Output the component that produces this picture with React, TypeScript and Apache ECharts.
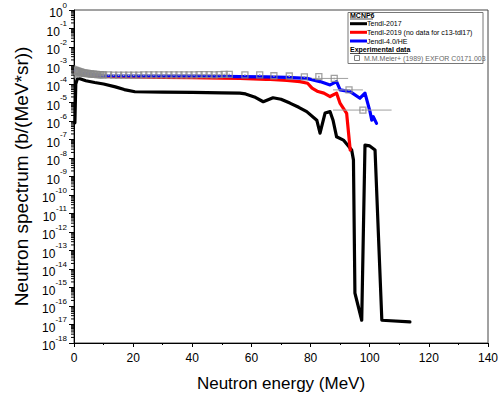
import React, { useEffect, useRef } from "react";
import * as echarts from "echarts";

const FONT = "'Liberation Sans', Arial, Helvetica, sans-serif";

// Tendl-2017 (black)
const tendl2017E = [0.3, 0.6, 1.2, 2, 4, 7, 10, 14, 17, 20.6, 30, 40, 50, 56.1, 58, 61, 64, 67.3, 70, 73, 76, 78.7, 82.1, 83.2, 84.9, 86.6, 87.6, 88.8, 91.1, 93.9, 94.5, 95.0, 97.3, 98.4, 100, 101.8, 104.1, 113.6];
const tendl2017V = [8e-7, 1e-4, 2.1e-4, 1.9e-4, 1.5e-4, 1.2e-4, 1.0e-4, 7e-5, 5e-5, 3.8e-5, 3.6e-5, 3.5e-5, 3.3e-5, 3.2e-5, 2.9e-5, 2e-5, 1.1e-5, 1.8e-5, 1.5e-5, 9.3e-6, 5.5e-6, 3.2e-6, 1.1e-6, 2.2e-7, 2.7e-6, 3.2e-6, 1.1e-6, 1.4e-7, 9.3e-8, 2.7e-8, 7.9e-9, 5e-16, 1.7e-17, 5e-8, 4.5e-8, 2.7e-8, 1.7e-17, 1.4e-17];

// Tendl-2019 (red)
const tendl2019E = [0.3, 0.8, 1.5, 3, 6, 10, 20, 30, 40, 50, 56.1, 65, 72, 76.4, 79, 80.5, 82.5, 84.5, 86.6, 88.8, 90, 92.2, 93.4];
const tendl2019V = [5.0e-4, 4.6e-4, 4.2e-4, 3.7e-4, 3.1e-4, 2.6e-4, 2.4e-4, 2.3e-4, 2.2e-4, 2.1e-4, 2.0e-4, 1.8e-4, 1.55e-4, 1.35e-4, 1.1e-4, 6e-5, 3.9e-5, 3.2e-5, 2.1e-5, 3.2e-5, 8.9e-6, 2.6e-6, 2.7e-8];

// Jendl-4.0/HE (blue)
const jendlE = [0.3, 0.8, 1.5, 3, 6, 10, 20, 30, 40, 50, 56.1, 65, 72, 78.7, 83.2, 86.6, 88.8, 90, 93.4, 96.7, 98.4, 100.1, 100.7, 101.2, 102.3];
const jendlV = [5.5e-4, 5.0e-4, 4.5e-4, 3.9e-4, 3.3e-4, 2.8e-4, 2.7e-4, 2.7e-4, 2.7e-4, 2.6e-4, 2.5e-4, 2.4e-4, 2.3e-4, 2.0e-4, 1.35e-4, 8.9e-5, 1.35e-4, 4.8e-5, 3.9e-5, 1.7e-5, 3.2e-5, 3.2e-6, 1.1e-6, 1.7e-6, 7.4e-7];

// Experimental data M.M.Meier+ (1989)
const expE = [0.4, 0.8, 1.2, 1.6, 2.0, 2.5, 3.0, 3.5, 4.0, 4.5, 5.0, 5.5, 6.0, 6.5, 7.0, 7.5, 8.0, 8.5, 9.0, 9.5, 10.0,
  11.7, 13.4, 15.1, 16.8, 18.5, 20.2, 21.9, 23.6, 25.3, 27.0, 28.7, 30.4, 32.1, 33.8, 35.5, 37.2, 38.9, 40.6, 42.3, 44.0, 45.7, 47.4, 49.1, 50.8, 52.5,
  57.8, 62.8, 67.6, 72.8, 77.9, 82.8, 88.0, 93.0, 97.7];
const expV = [5.2e-4, 5.0e-4, 4.8e-4, 4.6e-4, 4.4e-4, 4.2e-4, 4.0e-4, 3.9e-4, 3.8e-4, 3.7e-4, 3.6e-4, 3.5e-4, 3.45e-4, 3.4e-4, 3.35e-4, 3.3e-4, 3.25e-4, 3.2e-4, 3.2e-4, 3.15e-4, 3.1e-4,
  3.1e-4, 3.05e-4, 3.0e-4, 3.0e-4, 3.0e-4, 3.0e-4, 3.05e-4, 3.1e-4, 3.1e-4, 3.1e-4, 3.1e-4, 3.1e-4, 3.15e-4, 3.1e-4, 3.1e-4, 3.15e-4, 3.1e-4, 3.1e-4, 3.2e-4, 3.2e-4, 3.2e-4, 3.15e-4, 3.2e-4, 3.3e-4, 3.3e-4,
  3.1e-4, 3.1e-4, 2.8e-4, 2.7e-4, 2.4e-4, 2.5e-4, 2.0e-4, 4.8e-5, 3.9e-6];
const expYHigh = [1.0e-3, 9.5e-4, 9.0e-4, 8.5e-4, 8.0e-4, 7.5e-4, 7.0e-4, 6.5e-4, 6.0e-4, 5.6e-4, 5.2e-4, 4.9e-4, 4.7e-4, 4.5e-4, 4.3e-4, 4.2e-4, 4.1e-4, 4.0e-4, 3.9e-4, 3.8e-4, 3.7e-4,
  3.4e-4, 3.35e-4, 3.3e-4, 3.3e-4, 3.3e-4, 3.3e-4, 3.35e-4, 3.4e-4, 3.4e-4, 3.4e-4, 3.4e-4, 3.4e-4, 3.45e-4, 3.4e-4, 3.4e-4, 3.45e-4, 3.4e-4, 3.4e-4, 3.5e-4, 3.5e-4, 3.5e-4, 3.45e-4, 3.5e-4, 3.6e-4, 3.6e-4,
  3.4e-4, 3.4e-4, 3.1e-4, 3.0e-4, 2.7e-4, 2.8e-4, 2.2e-4, 5.3e-5, 4.3e-6];
const expYLow = [2.0e-4, 2.1e-4, 2.2e-4, 2.2e-4, 2.3e-4, 2.3e-4, 2.4e-4, 2.4e-4, 2.5e-4, 2.5e-4, 2.5e-4, 2.5e-4, 2.6e-4, 2.6e-4, 2.6e-4, 2.6e-4, 2.6e-4, 2.6e-4, 2.6e-4, 2.6e-4, 2.6e-4,
  2.8e-4, 2.75e-4, 2.7e-4, 2.7e-4, 2.7e-4, 2.7e-4, 2.75e-4, 2.8e-4, 2.8e-4, 2.8e-4, 2.8e-4, 2.8e-4, 2.85e-4, 2.8e-4, 2.8e-4, 2.85e-4, 2.8e-4, 2.8e-4, 2.9e-4, 2.9e-4, 2.9e-4, 2.85e-4, 2.9e-4, 3.0e-4, 3.0e-4,
  2.8e-4, 2.8e-4, 2.5e-4, 2.4e-4, 2.2e-4, 2.2e-4, 1.8e-4, 4.3e-5, 3.5e-6];
// horizontal (energy) error bars, only for the last three points
const expXLow = [...new Array(52).fill(null), 80.4, 87.6, 87.6];
const expXHigh = [...new Array(52).fill(null), 92.7, 97.7, 107.4];

const seriesNames = ["Tendl-2017", "Tendl-2019 (no data for c13-tdl17)", "Jendl-4.0/HE"];
const seriesColors = ["#000000", "#ff0000", "#0000ff"];
const expName = "M.M.Meier+ (1989) EXFOR C0171.003";
const legendHeaders = ["MCNP6", "Experimental data"];

// minor ticks on the log axis: 2..9 × 10^d
const minorTickValues: number[] = [];
for (let d = -18; d < 0; d++) {
  for (let k = 2; k <= 9; k++) minorTickValues.push(k * Math.pow(10, d));
}

export default function App() {
  const ref = useRef<HTMLDivElement>(null);
  useEffect(() => {
    if (!ref.current) return;
    const chart = echarts.init(ref.current, undefined, { renderer: "svg" });

    const lineData = [
      tendl2017E.map((e, i) => [e, tendl2017V[i]]),
      tendl2019E.map((e, i) => [e, tendl2019V[i]]),
      jendlE.map((e, i) => [e, jendlV[i]]),
    ];

    const lx = 350;
    const rows = [15, 23.7, 32.3, 41, 49.5, 58];
    const graphics: any[] = [
      { type: "rect", shape: { x: 348, y: 12.5, width: 135, height: 51 }, style: { fill: "#fff", stroke: "#777", lineWidth: 1 }, z: 100 },
      { type: "text", x: lx, y: rows[0], style: { text: legendHeaders[0], fontSize: 7, fontWeight: "bold", fontFamily: FONT, fill: "#000", verticalAlign: "middle" }, z: 101 },
      { type: "line", shape: { x1: lx, y1: rows[0] + 4, x2: lx + 23, y2: rows[0] + 4 }, style: { stroke: "#000", lineWidth: 0.7 }, z: 101 },
      { type: "text", x: lx, y: rows[4], style: { text: legendHeaders[1], fontSize: 7, fontWeight: "bold", fontFamily: FONT, fill: "#000", verticalAlign: "middle" }, z: 101 },
      { type: "line", shape: { x1: lx, y1: rows[4] + 4, x2: lx + 58, y2: rows[4] + 4 }, style: { stroke: "#000", lineWidth: 0.7 }, z: 101 },
      { type: "rect", shape: { x: 354.5, y: rows[5] - 2.5, width: 5, height: 5 }, style: { fill: "none", stroke: "#808080", lineWidth: 1 }, z: 101 },
      { type: "text", x: 364, y: rows[5], style: { text: expName, fontSize: 7, fontFamily: FONT, fill: "#666", verticalAlign: "middle" }, z: 101 },
    ];
    seriesNames.forEach((n, i) => {
      graphics.push({ type: "line", shape: { x1: lx, y1: rows[i + 1], x2: lx + 17, y2: rows[i + 1] }, style: { stroke: seriesColors[i], lineWidth: 3 }, z: 101 });
      graphics.push({ type: "text", x: lx + 17, y: rows[i + 1], style: { text: n, fontSize: 7, fontFamily: FONT, fill: "#000", verticalAlign: "middle" }, z: 101 });
    });

    chart.setOption({
      animation: false,
      backgroundColor: "#ffffff",
      textStyle: { fontFamily: FONT },
      grid: { left: 74, right: 16, top: 10, bottom: 58, show: true, borderColor: "#444", borderWidth: 1, backgroundColor: "transparent" },
      xAxis: {
        type: "value",
        min: 0,
        max: 140,
        interval: 20,
        name: "Neutron energy (MeV)",
        nameLocation: "middle",
        nameGap: 32,
        nameTextStyle: { fontSize: 17, color: "#000", fontFamily: FONT },
        axisLine: { show: true, lineStyle: { color: "#000", width: 1 } },
        axisTick: { show: true, length: 4, lineStyle: { color: "#000" } },
        minorTick: { show: true, splitNumber: 2, length: 2, lineStyle: { color: "#000" } },
        axisLabel: { fontSize: 12, color: "#000", margin: 9, fontFamily: FONT },
        splitLine: { show: false },
      },
      yAxis: {
        type: "log",
        min: 1e-18,
        max: 1,
        interval: 1,
        splitNumber: 18,
        name: "Neutron spectrum (b/(MeV*sr))",
        nameLocation: "middle",
        nameGap: 43,
        nameTextStyle: { fontSize: 19, color: "#000", fontFamily: FONT },
        axisLine: { show: true, lineStyle: { color: "#000", width: 1 } },
        axisTick: { show: true, length: 5, lineStyle: { color: "#000" } },
        axisLabel: {
          margin: 7,
          formatter: (v: number) => `{b|10}{s|${Math.round(Math.log10(v))}}`,
          rich: {
            b: { fontSize: 12, color: "#000", fontFamily: FONT, lineHeight: 18, verticalAlign: "bottom" },
            s: { fontSize: 8, color: "#000", fontFamily: FONT, lineHeight: 8, verticalAlign: "top" },
          },
        },
        splitLine: { show: false },
      },
      graphic: graphics,
      series: [
        ...lineData.map((d, i) => ({
          type: "line",
          name: seriesNames[i],
          data: d,
          showSymbol: false,
          symbol: "none",
          lineStyle: { color: seriesColors[i], width: 3.2, join: "round", cap: "round" },
          itemStyle: { color: seriesColors[i] },
          z: 2 + i * 0.1,
          clip: true,
        })),
        {
          type: "custom",
          name: "exp-errors",
          silent: true,
          z: 3,
          renderItem: (params: any, api: any) => {
            const e = api.value(0), v = api.value(1), ylo = api.value(2), yhi = api.value(3), xlo = api.value(4), xhi = api.value(5);
            const children: any[] = [];
            const p1 = api.coord([e, ylo]);
            const p2 = api.coord([e, yhi]);
            children.push({ type: "line", shape: { x1: p1[0], y1: p1[1], x2: p2[0], y2: p2[1] }, style: { stroke: "#a0a0a0", lineWidth: 1.5 } });
            if (xlo != null && !isNaN(xlo) && xhi != null && !isNaN(xhi) && xhi !== xlo) {
              const q1 = api.coord([xlo, v]);
              const q2 = api.coord([xhi, v]);
              children.push({ type: "line", shape: { x1: q1[0], y1: q1[1], x2: q2[0], y2: q2[1] }, style: { stroke: "#a0a0a0", lineWidth: 1 } });
            }
            return { type: "group", children };
          },
          encode: { x: 0, y: 1 },
          data: expE.map((e, i) => [e, expV[i], expYLow[i], expYHigh[i], expXLow[i] ?? "-", expXHigh[i] ?? "-"]),
        },
        {
          type: "scatter",
          name: expName,
          data: expE.map((e, i) => [e, expV[i]]),
          symbol: "rect",
          symbolSize: 6,
          itemStyle: { color: "rgba(0,0,0,0)", borderColor: "#8a8a8a", borderWidth: 1.3 },
          z: 4,
        },
        {
          type: "custom",
          name: "minor-y-ticks",
          silent: true,
          clip: false,
          z: 5,
          renderItem: (params: any, api: any) => {
            const pt = api.coord([0, api.value(1)]);
            return { type: "line", shape: { x1: pt[0] - 3, y1: pt[1], x2: pt[0], y2: pt[1] }, style: { stroke: "#000", lineWidth: 1 } };
          },
          encode: { x: 0, y: 1 },
          data: minorTickValues.map((v) => [0, v]),
        },
      ],
    } as any);
    return () => chart.dispose();
  }, []);
  return <div ref={ref} style={{ position: "fixed", left: 0, top: 0, width: 504, height: 401, background: "#fff" }} />;
}
